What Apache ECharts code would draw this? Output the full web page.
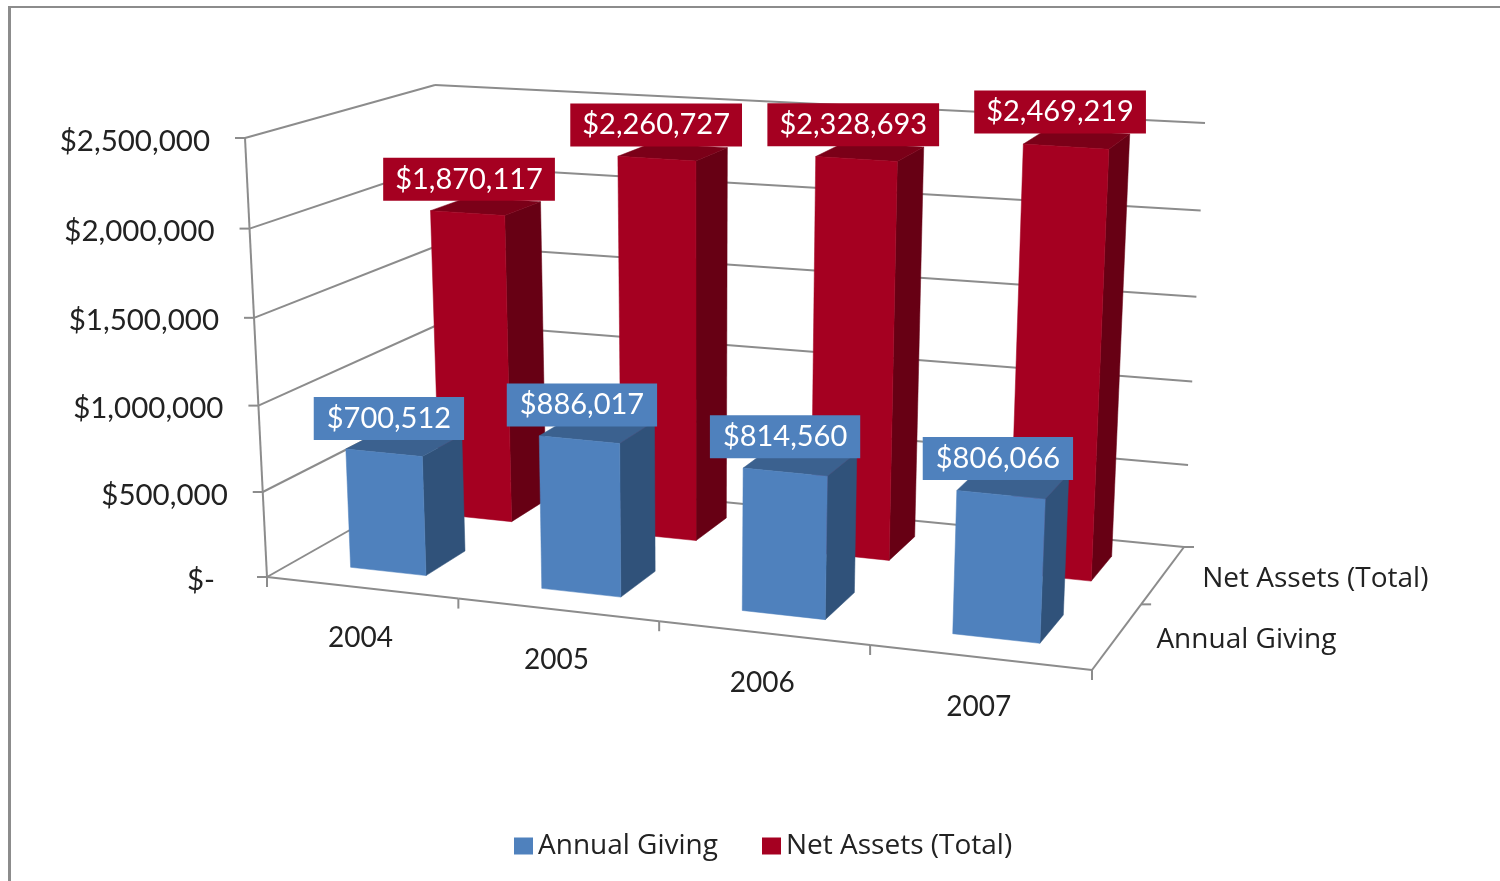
<!DOCTYPE html>
<html><head><meta charset="utf-8">
<style>html,body{margin:0;padding:0;background:#fff}#c{width:1500px;height:881px}</style>
<script src="https://cdn.jsdelivr.net/npm/echarts@6/dist/echarts.min.js"></script>
</head><body><div id="c"></div>
<script>
const categories = ['2004','2005','2006','2007'];
const depthCategories = ['Annual Giving','Net Assets (Total)'];
const annualGiving = [700512,886017,814560,806066];
const netAssets = [1870117,2260727,2328693,2469219];
const annualLabels = ['$700,512','$886,017','$814,560','$806,066'];
const netLabels = ['$1,870,117','$2,260,727','$2,328,693','$2,469,219'];
const yTicks = [0,500000,1000000,1500000,2000000,2500000];
const yTickLabels = ['$-','$500,000','$1,000,000','$1,500,000','$2,000,000','$2,500,000'];

const floorQuad = [[267,577],[1092,670],[1184,547],[447,475]];
const riseQuad = [[-22,-439],[20,-468],[21,-424],[-12,-390]];
function homography(q){
  const [p0,p1,p2,p3]=q;
  const sx=p0[0]-p1[0]+p2[0]-p3[0], sy=p0[1]-p1[1]+p2[1]-p3[1];
  const dx1=p1[0]-p2[0], dx2=p3[0]-p2[0], dy1=p1[1]-p2[1], dy2=p3[1]-p2[1];
  const d=dx1*dy2-dx2*dy1;
  const g=(sx*dy2-dx2*sy)/d, h=(dx1*sy-sx*dy1)/d;
  const a=p1[0]-p0[0]+g*p1[0], b=p3[0]-p0[0]+h*p3[0], c=p0[0];
  const e=p1[1]-p0[1]+g*p1[1], f=p3[1]-p0[1]+h*p3[1], k=p0[1];
  return (u,v)=>{const z=g*u+h*v+1;return [(a*u+b*v+c)/z,(e*u+f*v+k)/z];};
}
const floorH=homography(floorQuad);
function project(u,v,w){
  const a=floorH(u,v);
  const t=w*(0.96+0.04*w);
  const r=[0,1].map(k=>(1-v)*((1-u)*riseQuad[0][k]+u*riseQuad[1][k])+v*((1-u)*riseQuad[3][k]+u*riseQuad[2][k]));
  return [a[0]+r[0]*t, a[1]+r[1]*t];
}
const NUM_FONT='Lato', TXT_FONT='Open Sans';
const BAR_FRAC=0.40, DEPTH_FRAC=0.44;
const AXIS='#8c8c8c';

function toUnit(api,params,cat,val){
  const pt=api.coord([cat,val]), cs=params.coordSys;
  return [(pt[0]-cs.x)/cs.width, (cs.y+cs.height-pt[1])/cs.height];
}
function poly(points,fill,z2){
  return {type:'polygon',z2:z2,shape:{points:points},style:{fill:fill,stroke:fill,lineWidth:0.5}};
}
function line(a,b,w,z2){
  return {type:'line',z2:z2||1,shape:{x1:a[0],y1:a[1],x2:b[0],y2:b[1]},style:{stroke:AXIS,lineWidth:w||2}};
}
function barRenderer(row,labels,colors,labelOff,labelFont,pad){
  return function(params,api){
    const i=api.value(0), val=api.value(1);
    const [uc,w]=toUnit(api,params,i,val);
    const bw=api.size([1,0])[0]/params.coordSys.width;
    const u0=uc-bw*BAR_FRAC/2,u1=uc+bw*BAR_FRAC/2;
    const vc=(row+0.5)/depthCategories.length, dv=DEPTH_FRAC/depthCategories.length;
    const v0=vc-dv/2,v1=vc+dv/2;
    const fb0=project(u0,v0,0),fb1=project(u1,v0,0),bb1=project(u1,v1,0);
    const ft0=project(u0,v0,w),ft1=project(u1,v0,w),bt1=project(u1,v1,w),bt0=project(u0,v1,w);
    const mid=project(uc,(v0+v1)/2,w);
    return {type:'group',children:[
      poly([fb1,bb1,bt1,ft1],colors.side,1),
      poly([ft0,ft1,bt1,bt0],colors.top,2),
      poly([fb0,fb1,ft1,ft0],colors.front,3),
      {type:'text',z2:10,style:{x:mid[0]+labelOff[0],y:mid[1]+labelOff[1],text:labels[i],align:'center',verticalAlign:'middle',
        fill:'#fff',font:labelFont,backgroundColor:colors.front,padding:pad}}
    ]};
  };
}
function frameRenderer(params,api){
  const i=params.dataIndex, val=api.value(0);
  const w=toUnit(api,params,0,val)[1];
  const a=project(0,0,w),b=project(0,1,w),c=project(1,1,w);
  const kids=[line(a,b),line(b,c),line([a[0]-10,a[1]],a)];
  const off=val===0?52:35;
  kids.push({type:'text',style:{x:a[0]-off,y:a[1]+3,text:yTickLabels[i],align:'right',verticalAlign:'middle',fill:'#222',font:'29.5px '+NUM_FONT}});
  if(i<yTicks.length-1){
    const a2=project(0,0,toUnit(api,params,0,yTicks[i+1])[1]);
    kids.push(line(a,a2));
  }
  return {type:'group',children:kids};
}
function xFrameRenderer(params,api){
  const i=api.value(0);
  const uc=toUnit(api,params,i,0)[0];
  const bw=api.size([1,0])[0]/params.coordSys.width;
  const kids=[];
  const e0=project(uc-bw/2,0,0), e1=project(uc+bw/2,0,0);
  kids.push(line(e0,e1));
  kids.push(line(e1,[e1[0],e1[1]+10]));
  if(i===0) kids.push(line(e0,[e0[0],e0[1]+10]));
  const m=project(uc,0,0);
  kids.push({type:'text',style:{x:m[0]-1,y:m[1]+50,text:categories[i],align:'center',verticalAlign:'middle',fill:'#222',font:'28px '+NUM_FONT}});
  return {type:'group',children:kids};
}
function depthRenderer(params,api){
  const i=params.dataIndex, n=depthCategories.length;
  const a=project(1,i/n,0), b=project(1,(i+1)/n,0);
  const m=project(1,(i+.5)/n,0);
  return {type:'group',children:[line(a,b),line(b,[b[0]+10,b[1]]),
    {type:'text',style:{x:m[0]+39,y:m[1]+4,text:depthCategories[i],align:'left',verticalAlign:'middle',fill:'#222',font:'28px '+TXT_FONT}}]};
}
const blue={front:'#4F81BD',side:'#30527A',top:'#3B618F'};
const red={front:'#A50021',side:'#670014',top:'#7B0018'};
const chart=echarts.init(document.getElementById('c'),null,{renderer:'canvas'});
chart.setOption({
  animation:false,backgroundColor:'#fff',
  grid:{left:200,right:200,top:100,bottom:200},
  xAxis:{type:'category',data:categories,show:false},
  yAxis:{type:'value',min:0,max:2500000,interval:500000,show:false},
  legend:{data:depthCategories,left:509,top:827,icon:'rect',itemWidth:19,itemHeight:17,itemGap:44,
    textStyle:{fontFamily:TXT_FONT,fontSize:28,color:'#222'}},
  graphic:[
    {type:'rect',silent:true,shape:{x:8,y:6,width:1492,height:2},style:{fill:AXIS}},
    {type:'rect',silent:true,shape:{x:8,y:6,width:3,height:875},style:{fill:AXIS}}
  ],
  series:[
    {type:'custom',name:'walls',data:yTicks.map(v=>[v]),renderItem:frameRenderer,silent:true,encode:{y:0},z:1},
    {type:'custom',name:'xframe',data:categories.map((c,i)=>[i]),renderItem:xFrameRenderer,silent:true,encode:{x:0},z:1},
    {type:'custom',name:'zframe',data:depthCategories.map((c,i)=>[i]),renderItem:depthRenderer,silent:true,z:1},
    {type:'custom',name:depthCategories[1],z:2,itemStyle:{color:red.front},encode:{x:0,y:1},
      data:netAssets.map((v,i)=>[i,v]),renderItem:barRenderer(1,netLabels,red,[-17,-27],'29px '+NUM_FONT,[7,12,7,12])},
    {type:'custom',name:depthCategories[0],z:3,itemStyle:{color:blue.front},encode:{x:0,y:1},
      data:annualGiving.map((v,i)=>[i,v]),renderItem:barRenderer(0,annualLabels,blue,[-15.5,-23.5],'29px '+NUM_FONT,[7,13,7,13])}
  ]
});
</script></body></html>
